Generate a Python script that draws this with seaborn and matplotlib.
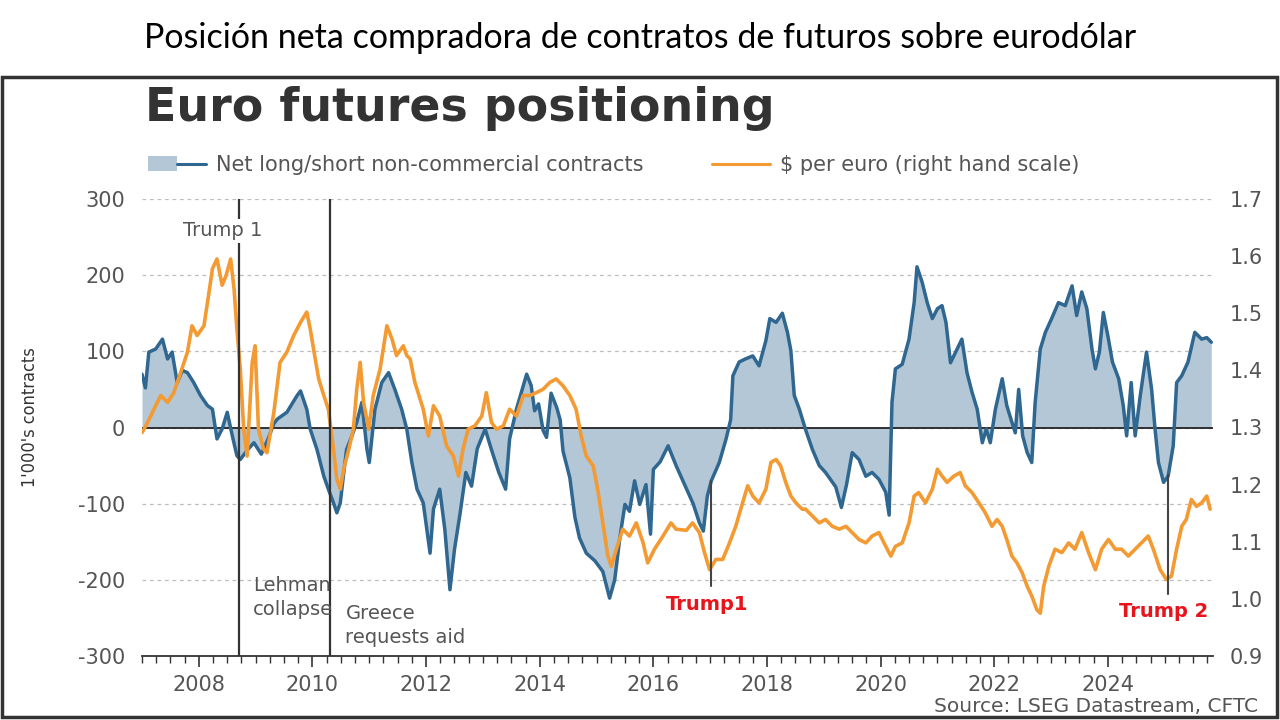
import matplotlib
matplotlib.use("Agg")
import numpy as np
import pandas as pd
import seaborn as sns
import matplotlib.pyplot as plt
from matplotlib.patches import Rectangle, Patch
from matplotlib.lines import Line2D
from matplotlib.legend_handler import HandlerTuple
from matplotlib.ticker import MultipleLocator

# ---------------- data ----------------
net_years = [
    2007.00, 2007.06, 2007.12, 2007.24, 2007.36, 2007.45, 2007.53, 2007.62, 2007.71, 2007.80,
    2007.91, 2008.03, 2008.15, 2008.24, 2008.32, 2008.41, 2008.50, 2008.59, 2008.67, 2008.73,
    2008.85, 2008.97, 2009.10, 2009.22, 2009.32, 2009.38, 2009.55, 2009.73, 2009.79, 2009.90,
    2009.96, 2010.08, 2010.20, 2010.28, 2010.37, 2010.43, 2010.49, 2010.55, 2010.60, 2010.70,
    2010.78, 2010.87, 2010.96, 2011.00, 2011.10, 2011.22, 2011.34, 2011.45, 2011.57, 2011.66,
    2011.75, 2011.84, 2011.95, 2012.07, 2012.13, 2012.24, 2012.33, 2012.42, 2012.50, 2012.60,
    2012.70, 2012.80, 2012.90, 2013.04, 2013.15, 2013.28, 2013.40, 2013.47, 2013.59, 2013.77,
    2013.85, 2013.91, 2013.98, 2014.06, 2014.12, 2014.20, 2014.30, 2014.36, 2014.41, 2014.53,
    2014.62, 2014.70, 2014.82, 2014.97, 2015.11, 2015.23, 2015.32, 2015.41, 2015.50, 2015.58,
    2015.67, 2015.76, 2015.87, 2015.95, 2016.00, 2016.12, 2016.26, 2016.40, 2016.58, 2016.70,
    2016.81, 2016.88, 2016.95, 2017.02, 2017.16, 2017.28, 2017.36, 2017.40, 2017.51, 2017.62,
    2017.75, 2017.86, 2017.98, 2018.05, 2018.16, 2018.27, 2018.36, 2018.42, 2018.48, 2018.57,
    2018.68, 2018.80, 2018.92, 2019.03, 2019.21, 2019.31, 2019.40, 2019.50, 2019.62, 2019.74,
    2019.85, 2019.97, 2020.09, 2020.15, 2020.20, 2020.26, 2020.38, 2020.50, 2020.59, 2020.64,
    2020.73, 2020.82, 2020.91, 2021.00, 2021.08, 2021.15, 2021.23, 2021.32, 2021.43, 2021.52,
    2021.61, 2021.70, 2021.79, 2021.86, 2021.93, 2022.02, 2022.14, 2022.22, 2022.31, 2022.37,
    2022.43, 2022.50, 2022.58, 2022.66, 2022.72, 2022.81, 2022.90, 2023.01, 2023.13, 2023.25,
    2023.37, 2023.45, 2023.54, 2023.63, 2023.72, 2023.78, 2023.85, 2023.92, 2024.01, 2024.08,
    2024.19, 2024.27, 2024.33, 2024.41, 2024.48, 2024.57, 2024.68, 2024.77, 2024.83, 2024.89,
    2024.98, 2025.06, 2025.15, 2025.21, 2025.30, 2025.41, 2025.53, 2025.65, 2025.74, 2025.82,
]
net_contracts = [
    70, 52, 99, 103, 116, 90, 99, 59, 75, 72,
    59, 42, 29, 24, -15, -2, 20, -11, -37, -42,
    -30, -20, -35, -15, 5, 11, 20, 42, 48, 24,
    -2, -29, -64, -81, -99, -112, -99, -60, -29, -10,
    7, 33, -29, -46, 24, 59, 72, 50, 24, -2,
    -46, -81, -99, -165, -107, -81, -134, -213, -160, -112,
    -59, -77, -28, -2, -29, -59, -81, -15, 24, 70,
    55, 22, 31, -4, -13, 45, 26, 10, -31, -66,
    -118, -145, -165, -175, -189, -224, -200, -145, -101, -110,
    -70, -101, -75, -140, -55, -45, -24, -50, -80, -100,
    -125, -136, -90, -70, -46, -15, 10, 68, 86, 90,
    94, 81, 114, 143, 138, 150, 125, 101, 42, 24,
    -3, -29, -50, -59, -78, -105, -75, -33, -42, -64,
    -59, -68, -85, -115, 33, 77, 83, 116, 164, 211,
    191, 164, 143, 156, 160, 138, 85, 99, 116, 72,
    46, 24, -20, -2, -20, 24, 64, 29, 7, -7,
    50, -11, -33, -46, 33, 103, 125, 143, 164, 160,
    186, 147, 178, 156, 103, 77, 99, 151, 116, 86,
    64, 29, -11, 59, -11, 42, 99, 50, -2, -46,
    -72, -64, -24, 59, 68, 86, 125, 116, 118, 112,
]

fx_years = [
    2007.00, 2007.10, 2007.21, 2007.33, 2007.45, 2007.56, 2007.68, 2007.80, 2007.88, 2007.97,
    2008.09, 2008.18, 2008.24, 2008.32, 2008.41, 2008.48, 2008.56, 2008.62, 2008.67, 2008.73,
    2008.79, 2008.85, 2008.94, 2008.99, 2009.05, 2009.14, 2009.20, 2009.32, 2009.43, 2009.55,
    2009.67, 2009.79, 2009.90, 2009.96, 2010.02, 2010.11, 2010.20, 2010.28, 2010.37, 2010.43,
    2010.49, 2010.55, 2010.64, 2010.72, 2010.78, 2010.84, 2010.90, 2010.99, 2011.07, 2011.19,
    2011.31, 2011.40, 2011.48, 2011.60, 2011.66, 2011.72, 2011.80, 2011.86, 2011.95, 2012.04,
    2012.13, 2012.24, 2012.36, 2012.48, 2012.57, 2012.65, 2012.74, 2012.86, 2012.98, 2013.06,
    2013.15, 2013.24, 2013.36, 2013.47, 2013.59, 2013.71, 2013.83, 2013.94, 2014.06, 2014.18,
    2014.29, 2014.41, 2014.53, 2014.64, 2014.73, 2014.82, 2014.94, 2015.02, 2015.11, 2015.20,
    2015.26, 2015.35, 2015.46, 2015.58, 2015.70, 2015.82, 2015.90, 2016.02, 2016.17, 2016.31,
    2016.40, 2016.58, 2016.69, 2016.81, 2016.90, 2016.99, 2017.10, 2017.22, 2017.34, 2017.45,
    2017.57, 2017.66, 2017.75, 2017.86, 2017.98, 2018.07, 2018.16, 2018.24, 2018.33, 2018.42,
    2018.51, 2018.62, 2018.68, 2018.80, 2018.92, 2019.03, 2019.15, 2019.27, 2019.39, 2019.50,
    2019.62, 2019.74, 2019.85, 2019.97, 2020.09, 2020.18, 2020.26, 2020.38, 2020.50, 2020.59,
    2020.67, 2020.79, 2020.91, 2021.00, 2021.08, 2021.17, 2021.29, 2021.40, 2021.49, 2021.61,
    2021.73, 2021.84, 2021.96, 2022.05, 2022.14, 2022.22, 2022.31, 2022.40, 2022.49, 2022.58,
    2022.66, 2022.75, 2022.81, 2022.87, 2022.96, 2023.07, 2023.19, 2023.31, 2023.42, 2023.54,
    2023.66, 2023.78, 2023.89, 2024.01, 2024.13, 2024.24, 2024.36, 2024.48, 2024.59, 2024.71,
    2024.80, 2024.92, 2025.03, 2025.12, 2025.21, 2025.30, 2025.38, 2025.47, 2025.56, 2025.65,
    2025.74, 2025.80,
]
usd_per_eur = [
    1.291, 1.309, 1.332, 1.356, 1.344, 1.361, 1.396, 1.432, 1.478, 1.461,
    1.478, 1.537, 1.578, 1.595, 1.549, 1.566, 1.595, 1.543, 1.473, 1.402,
    1.297, 1.250, 1.414, 1.443, 1.297, 1.262, 1.256, 1.326, 1.414, 1.432,
    1.461, 1.484, 1.502, 1.473, 1.437, 1.385, 1.356, 1.332, 1.262, 1.209,
    1.192, 1.227, 1.262, 1.297, 1.367, 1.414, 1.344, 1.297, 1.356, 1.402,
    1.478, 1.455, 1.426, 1.443, 1.426, 1.420, 1.380, 1.361, 1.332, 1.285,
    1.338, 1.320, 1.268, 1.250, 1.215, 1.262, 1.297, 1.303, 1.320, 1.361,
    1.309, 1.297, 1.303, 1.332, 1.320, 1.356, 1.356, 1.361, 1.367, 1.379,
    1.385, 1.373, 1.356, 1.332, 1.285, 1.250, 1.233, 1.192, 1.133, 1.075,
    1.057, 1.087, 1.122, 1.110, 1.133, 1.098, 1.063, 1.087, 1.110, 1.133,
    1.122, 1.120, 1.133, 1.116, 1.081, 1.051, 1.069, 1.069, 1.098, 1.127,
    1.168, 1.198, 1.180, 1.168, 1.192, 1.239, 1.244, 1.233, 1.204, 1.180,
    1.168, 1.157, 1.157, 1.145, 1.133, 1.139, 1.127, 1.122, 1.127, 1.116,
    1.104, 1.098, 1.110, 1.116, 1.092, 1.075, 1.092, 1.098, 1.133, 1.180,
    1.186, 1.168, 1.192, 1.227, 1.215, 1.204, 1.215, 1.221, 1.198, 1.186,
    1.168, 1.151, 1.127, 1.139, 1.127, 1.104, 1.075, 1.063, 1.046, 1.022,
    1.005, 0.981, 0.975, 1.022, 1.057, 1.087, 1.081, 1.098, 1.087, 1.116,
    1.081, 1.051, 1.087, 1.104, 1.087, 1.087, 1.075, 1.087, 1.098, 1.110,
    1.087, 1.051, 1.034, 1.040, 1.087, 1.127, 1.139, 1.174, 1.162, 1.168,
    1.180, 1.157,
]

left_ticks = [-300, -200, -100, 0, 100, 200, 300]
right_ticks = [0.9, 1.0, 1.1, 1.2, 1.3, 1.4, 1.5, 1.6, 1.7]

net_label = "Net long/short non-commercial contracts"
fx_label = "$ per euro (right hand scale)"

# ---------------- styling ----------------
BLUE = "#2f6790"
FILL = "#b3c7d6"
ORANGE = "#f39a32"
GREY_TXT = "#555555"
RED = "#e8141c"

sns.set_theme(style="white")
plt.rcParams['font.family'] = ['DejaVu Sans']
plt.rcParams['axes.unicode_minus'] = False

net_df = pd.DataFrame({"year": net_years, "net": net_contracts})
fx_df = pd.DataFrame({"year": fx_years, "fx": usd_per_eur})

fig = plt.figure(figsize=(12.8, 7.2), dpi=100)
ax = fig.add_axes([142 / 1280, 64 / 720, 1071 / 1280, 457 / 720])

ax.fill_between(net_df["year"], net_df["net"], 0, color=FILL, lw=0, zorder=1)
sns.lineplot(data=net_df, x="year", y="net", ax=ax, color=BLUE, lw=2.5,
             legend=False, zorder=3)

ax.set_xlim(2007.0, 2025.85)
ax.set_ylim(-300, 300)
ax.set_yticks(left_ticks)
ax.set_xlabel("")
ax.set_ylabel("")
ax.yaxis.grid(True, linestyle=(0, (3, 3)), color="#bdbdbd", lw=0.9)
ax.xaxis.grid(False)
ax.set_axisbelow(True)
for s in ["left", "right", "top"]:
    ax.spines[s].set_visible(False)
ax.spines["bottom"].set_color("#333333")
ax.spines["bottom"].set_linewidth(1.3)
ax.xaxis.set_major_locator(MultipleLocator(2))
ax.xaxis.set_minor_locator(MultipleLocator(0.25))
ax.tick_params(axis="x", which="major", direction="out", length=8, width=1.2,
               color="#333333", pad=6, labelsize=15, labelcolor=GREY_TXT, bottom=True)
ax.tick_params(axis="x", which="minor", direction="out", length=5, width=1.0,
               color="#333333", bottom=True)
ax.tick_params(axis="y", length=0, pad=12, labelsize=15, labelcolor=GREY_TXT)

ax.axhline(0, color="#222222", lw=1.3, zorder=2)

ax2 = ax.twinx()
sns.lineplot(data=fx_df, x="year", y="fx", ax=ax2, color=ORANGE, lw=2.6,
             legend=False, zorder=3)
ax2.set_ylim(0.9, 1.7)
ax2.set_yticks(right_ticks)
ax2.set_yticklabels([f"{v:.1f}" for v in right_ticks])
ax2.set_ylabel("")
ax2.grid(False)
for s in ax2.spines.values():
    s.set_visible(False)
ax2.tick_params(axis="y", length=0, pad=12, labelsize=15, labelcolor=GREY_TXT)

# event lines and annotations (right-axis coords: value = 1.3 + contracts/750)
ax2.axvline(2008.71, color="#333333", lw=1.6, zorder=4)
ax2.axvline(2010.31, color="#333333", lw=1.6, zorder=4)
ax2.text(2008.42, 1.3 + 258 / 750, "Trump 1", ha="center", va="center",
         fontsize=14, color=GREY_TXT, zorder=6,
         bbox=dict(fc="white", ec="none", pad=2))
ax2.text(2008.96, 1.3 - 195 / 750, "Lehman\ncollapse", ha="left", va="top",
         fontsize=14, color=GREY_TXT, linespacing=1.3, zorder=6)
ax2.text(2010.58, 1.3 - 232 / 750, "Greece\nrequests aid", ha="left", va="top",
         fontsize=14, color=GREY_TXT, linespacing=1.3, zorder=6)

ax2.plot([2017.02, 2017.02], [1.3 - 70 / 750, 1.3 - 208 / 750], color="#444444", lw=1.5, zorder=5)
ax2.plot([2025.05, 2025.05], [1.3 - 63 / 750, 1.3 - 218 / 750], color="#444444", lw=1.5, zorder=5)
ax2.text(2016.95, 1.3 - 232 / 750, "Trump1", ha="center", va="center", fontsize=14,
         color=RED, weight="bold", zorder=6)
ax2.text(2024.98, 1.3 - 241 / 750, "Trump 2", ha="center", va="center", fontsize=14,
         color=RED, weight="bold", zorder=6)

# legend
h_net = (Patch(fc=FILL, ec="none"), Line2D([], [], color=BLUE, lw=2.2))
h_fx = Line2D([], [], color=ORANGE, lw=2.2)
fig.legend(handles=[h_net, h_fx], labels=[net_label, fx_label],
           handler_map={tuple: HandlerTuple(ndivide=None, pad=0)},
           loc="center left", bbox_to_anchor=(148 / 1280, 1 - 165 / 720),
           ncol=2, frameon=False, fontsize=15, handlelength=2.8,
           handletextpad=0.45, columnspacing=3.3, labelcolor=GREY_TXT,
           borderaxespad=0, borderpad=0)

# titles / labels / source
fig.text(0.5, 1 - 38 / 720, "Posición neta compradora de contratos de futuros sobre eurodólar",
         ha="center", va="center", fontsize=24.5, family=["Lato", "DejaVu Sans"], color="black")
fig.text(145 / 1280, 1 - 121 / 720, "Euro futures positioning", ha="left", va="baseline",
         fontsize=33, weight="bold", color="#333333")
fig.text(30 / 1280, 1 - 417 / 720, "1'000's contracts", rotation=90, ha="center",
         va="center", fontsize=13, color="#333333", fontstretch="condensed")
fig.text(1258 / 1280, 1 - 712 / 720, "Source: LSEG Datastream, CFTC", ha="right",
         va="baseline", fontsize=14.5, color=GREY_TXT)

fig.add_artist(Rectangle((2 / 1280, 3 / 720), 1275 / 1280, 640 / 720,
                         transform=fig.transFigure, fill=False, ec="#333333", lw=2.5))

fig.savefig("out.png", dpi=100)
